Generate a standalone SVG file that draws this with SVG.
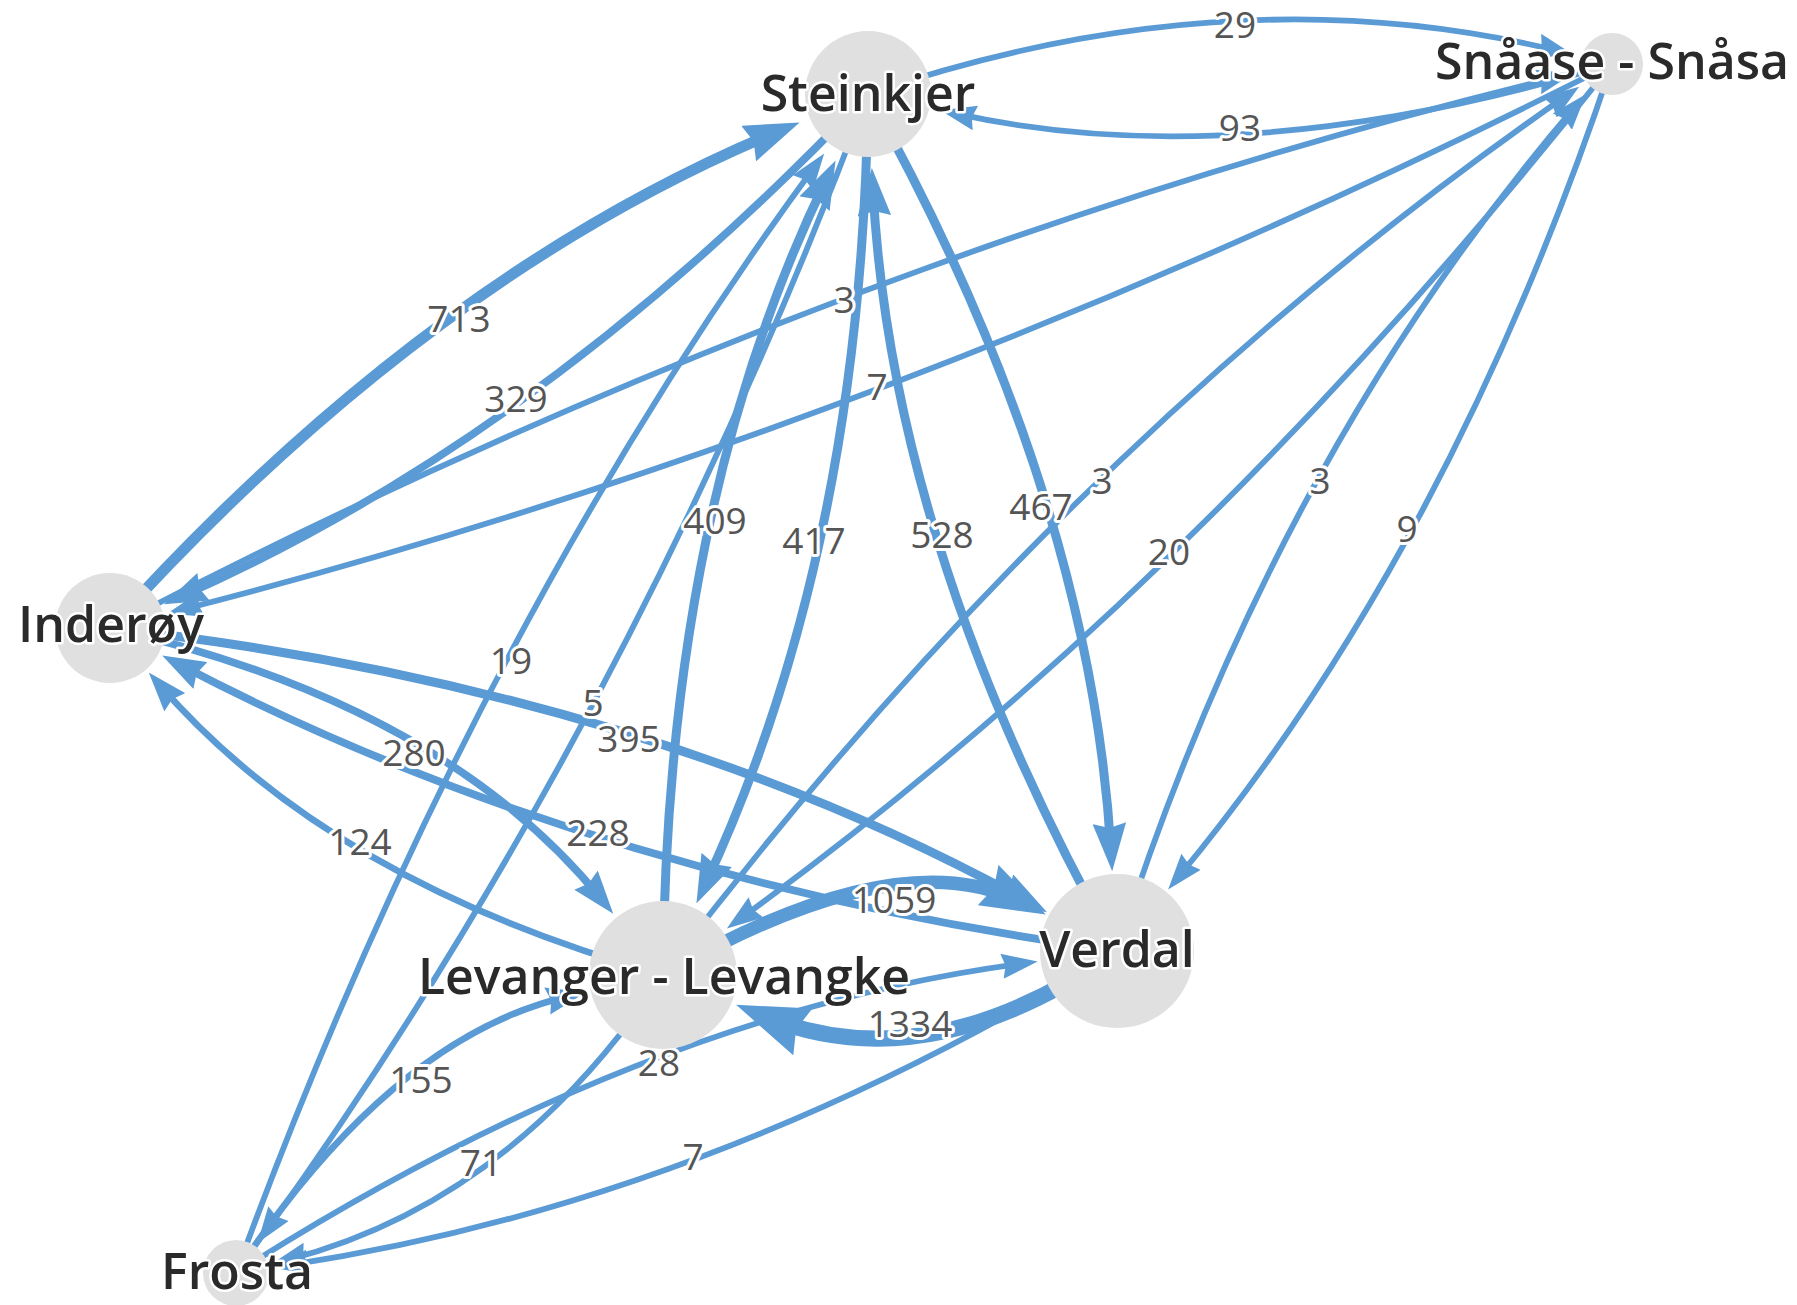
<svg xmlns="http://www.w3.org/2000/svg" width="1797" height="1305" viewBox="0 0 1797 1305">
<style>
.e{fill:none;stroke:#5B9BD5;stroke-linecap:butt}
.e5{stroke-width:5.8}
.e6{stroke-width:6.6}
.e7{stroke-width:7.8}
.e8{stroke-width:9}
.e10{stroke-width:11}
.e13{stroke-width:13.5}
.e15{stroke-width:16}
.el{font-family:"Open Sans","Noto Sans","Liberation Sans",sans-serif;font-size:37px;fill:#555;text-anchor:middle;stroke:#fff;stroke-width:6;stroke-linejoin:round;paint-order:stroke}
.nc{fill:#E0E0E0}
.nl{font-family:"Open Sans","Noto Sans","Liberation Sans",sans-serif;font-size:50px;font-weight:600;fill:#2a2a2a;text-anchor:middle;stroke:#fff;stroke-width:5;stroke-linejoin:round;paint-order:stroke}
.ah{fill:#5B9BD5}
</style>
<defs>
<marker id="a30" markerUnits="userSpaceOnUse" viewBox="0 0 36 25.2" markerWidth="36" markerHeight="25.2" refX="21" refY="12.6" orient="auto"><path class="ah" d="M0,0 L36,12.6 L0,25.2 L3.6,12.6 z"/></marker>
<marker id="a33" markerUnits="userSpaceOnUse" viewBox="0 0 39.6 27.7" markerWidth="39.6" markerHeight="27.7" refX="23.1" refY="13.85" orient="auto"><path class="ah" d="M0,0 L39.6,13.85 L0,27.7 L4,13.85 z"/></marker>
<marker id="a36" markerUnits="userSpaceOnUse" viewBox="0 0 43.2 30.2" markerWidth="43.2" markerHeight="30.2" refX="25.2" refY="15.1" orient="auto"><path class="ah" d="M0,0 L43.2,15.1 L0,30.2 L4.3,15.1 z"/></marker>
<marker id="a40" markerUnits="userSpaceOnUse" viewBox="0 0 48 33.6" markerWidth="48" markerHeight="33.6" refX="28" refY="16.8" orient="auto"><path class="ah" d="M0,0 L48,16.8 L0,33.6 L4.8,16.8 z"/></marker>
<marker id="a46" markerUnits="userSpaceOnUse" viewBox="0 0 55.2 38.6" markerWidth="55.2" markerHeight="38.6" refX="32.2" refY="19.3" orient="auto"><path class="ah" d="M0,0 L55.2,19.3 L0,38.6 L5.5,19.3 z"/></marker>
<marker id="a54" markerUnits="userSpaceOnUse" viewBox="0 0 64.8 45.4" markerWidth="64.8" markerHeight="45.4" refX="37.8" refY="22.7" orient="auto"><path class="ah" d="M0,0 L64.8,22.7 L0,45.4 L6.5,22.7 z"/></marker>
<marker id="a60" markerUnits="userSpaceOnUse" viewBox="0 0 72 50.4" markerWidth="72" markerHeight="50.4" refX="42" refY="25.2" orient="auto"><path class="ah" d="M0,0 L72,25.2 L0,50.4 L7.2,25.2 z"/></marker>
</defs>
<rect width="1797" height="1305" fill="#fff"/>
<g id="connectors">
<path class="e e5" marker-end="url(#a30)" d="M868,94 Q1230,-29 1558.6,51"/>
<path class="e e5" marker-end="url(#a30)" d="M1612,64 Q1240,177 954.9,113.4"/>
<path class="e e10" marker-end="url(#a46)" d="M110,628 Q427,277 778.4,131.2"/>
<path class="e e7" marker-end="url(#a36)" d="M868,94 Q543,437 180.4,596.9"/>
<path class="e e5" marker-end="url(#a30)" d="M110,628 Q829,254 1558.6,77"/>
<path class="e e5" marker-end="url(#a30)" d="M1612,64 Q893,428 181.7,609.7"/>
<path class="e e8" marker-end="url(#a40)" d="M663,975 Q666.5,507.5 826.8,178.5"/>
<path class="e e8" marker-end="url(#a40)" d="M868,94 Q862.5,547.5 704.9,885.3"/>
<path class="e e8" marker-end="url(#a40)" d="M1117,951 Q891.5,547.5 872.9,187.9"/>
<path class="e e8" marker-end="url(#a40)" d="M868,94 Q1089.5,491.5 1111,851.2"/>
<path class="e e5" marker-end="url(#a30)" d="M663,975 Q1066.5,442.5 1566.8,95.4"/>
<path class="e e5" marker-end="url(#a30)" d="M1612,64 Q1200.5,584.5 739,919.7"/>
<path class="e e5" marker-end="url(#a30)" d="M1117,951 Q1275.5,454.5 1576.1,105.7"/>
<path class="e e5" marker-end="url(#a30)" d="M1612,64 Q1449.5,550.5 1177.7,877.9"/>
<path class="e e5" marker-end="url(#a30)" d="M236,1273 Q468,638.5 815.3,165.7"/>
<path class="e e5" marker-end="url(#a30)" d="M868,94 Q632,720.5 266.3,1230.7"/>
<path class="e e8" marker-end="url(#a40)" d="M110,628 Q642.5,688.5 1029.5,902.6"/>
<path class="e e7" marker-end="url(#a36)" d="M110,628 Q443.5,704.5 601.9,899.7"/>
<path class="e e7" marker-end="url(#a36)" d="M1117,951 Q582.5,876.5 178.1,663.8"/>
<path class="e e6" marker-end="url(#a33)" d="M663,975 Q331.5,882.5 159.6,684.9"/>
<path class="e e13" marker-end="url(#a54)" d="M663,975 Q898,839 1021.8,902.3"/>
<path class="e e15" marker-end="url(#a60)" d="M1117,951 Q928,1083 763.9,1016.1"/>
<path class="e e6" marker-end="url(#a33)" d="M236,1273 Q392.5,1036 569.8,996"/>
<path class="e e5" marker-end="url(#a30)" d="M236,1273 Q641.5,1014 1022.8,963.5"/>
<path class="e e5" marker-end="url(#a30)" d="M663,975 Q512.5,1202 286.4,1260.1"/>
<path class="e e5" marker-end="url(#a30)" d="M1117,951 Q709.5,1202 287.4,1265.3"/>
<text class="el" x="1235" y="38">29</text>
<text class="el" x="1240" y="141">93</text>
<text class="el" x="459" y="332">713</text>
<text class="el" x="516" y="412">329</text>
<text class="el" x="844" y="313">3</text>
<text class="el" x="877" y="400">7</text>
<text class="el" x="715" y="534">409</text>
<text class="el" x="814" y="554">417</text>
<text class="el" x="942" y="548">528</text>
<text class="el" x="1041" y="520">467</text>
<text class="el" x="1102" y="494">3</text>
<text class="el" x="1169" y="565">20</text>
<text class="el" x="1320" y="494">3</text>
<text class="el" x="1407" y="542">9</text>
<text class="el" x="511" y="674">19</text>
<text class="el" x="593" y="716">5</text>
<text class="el" x="629" y="752">395</text>
<text class="el" x="414" y="766">280</text>
<text class="el" x="598" y="846">228</text>
<text class="el" x="360" y="855">124</text>
<text class="el" x="894" y="913">1059</text>
<text class="el" x="910" y="1037">1334</text>
<text class="el" x="421" y="1093">155</text>
<text class="el" x="659" y="1076">28</text>
<text class="el" x="481" y="1176">71</text>
<text class="el" x="693" y="1170">7</text>
</g>
<g id="node-steinkjer"><circle class="nc" cx="868" cy="94" r="63"/><text class="nl" x="868" y="111">Steinkjer</text></g>
<g id="node-snasa"><circle class="nc" cx="1612" cy="64" r="31"/><text class="nl" x="1612" y="79">Snåase - Snåsa</text></g>
<g id="node-inderoy"><circle class="nc" cx="110" cy="628" r="55"/><text class="nl" x="111" y="642">Inderøy</text></g>
<g id="node-levanger"><circle class="nc" cx="663" cy="975" r="74"/><text class="nl" x="664" y="994">Levanger - Levangke</text></g>
<g id="node-verdal"><circle class="nc" cx="1117" cy="951" r="77"/><text class="nl" x="1117" y="967">Verdal</text></g>
<g id="node-frosta"><circle class="nc" cx="236" cy="1273" r="33"/><text class="nl" x="237" y="1289">Frosta</text></g>
</svg>
